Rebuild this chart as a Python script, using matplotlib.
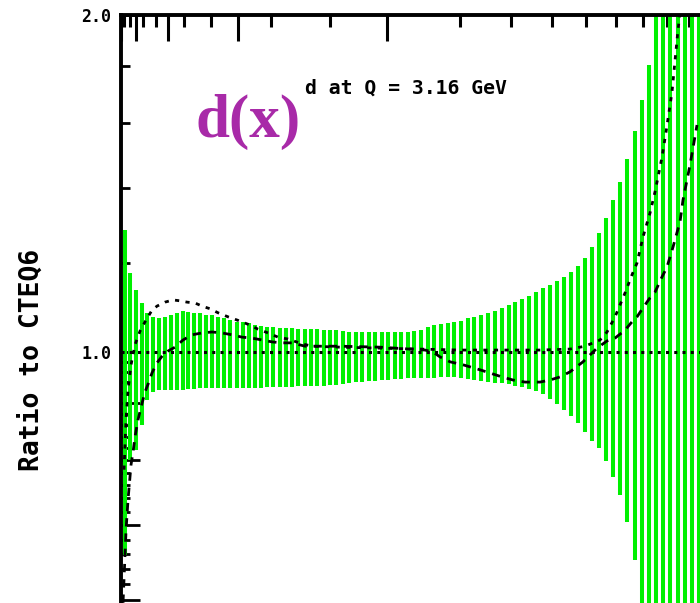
import numpy as np
import matplotlib
matplotlib.use("Agg")
import matplotlib.pyplot as plt
from matplotlib.ticker import FixedLocator, FixedFormatter, NullFormatter

# ---------------- data ----------------
# x positions of the green uncertainty bars
bar_x = [
    2.06e-5, 5.02e-5, 9.96e-5, 1.74e-4, 2.80e-4, 4.23e-4, 6.08e-4, 8.40e-4, 1.130e-3, 1.480e-3,
    1.895e-3, 2.382e-3, 2.946e-3, 3.604e-3, 4.354e-3, 5.201e-3, 6.151e-3, 7.210e-3, 8.405e-3, 9.726e-3,
    0.01118, 0.01277, 0.01450, 0.01642, 0.01849, 0.02074, 0.02316, 0.02576, 0.02855, 0.03159,
    0.03483, 0.03829, 0.04197, 0.04587, 0.05008, 0.05454, 0.05926, 0.06424, 0.06949, 0.07511,
    0.08103, 0.08725, 0.09377, 0.1006, 0.1078, 0.1154, 0.1234, 0.1317, 0.1404, 0.1495,
    0.1591, 0.1691, 0.1795, 0.1904, 0.2016, 0.2133, 0.2256, 0.2384, 0.2517, 0.2655,
    0.2797, 0.2945, 0.3099, 0.3260, 0.3425, 0.3596, 0.3773, 0.3955, 0.4146, 0.4343,
    0.4547, 0.4756, 0.4972, 0.5194, 0.5426, 0.5664, 0.5910, 0.6163, 0.6423, 0.6690,
    0.6964, 0.7250, 0.7543, 0.7844, 0.8154, 0.8471, 0.8796, 0.9130, 0.9472,
]
band_upper = [
    1.285, 1.176, 1.136, 1.106, 1.084, 1.075, 1.072, 1.075, 1.079, 1.084,
    1.088, 1.086, 1.084, 1.084, 1.079, 1.079, 1.075, 1.072, 1.068, 1.064,
    1.064, 1.062, 1.057, 1.055, 1.053, 1.053, 1.051, 1.051, 1.051, 1.048,
    1.048, 1.048, 1.048, 1.046, 1.046, 1.046, 1.044, 1.042, 1.042, 1.042,
    1.042, 1.042, 1.042, 1.042, 1.042, 1.042, 1.042, 1.044, 1.046, 1.053,
    1.057, 1.059, 1.062, 1.064, 1.066, 1.072, 1.075, 1.079, 1.084, 1.088,
    1.095, 1.102, 1.108, 1.115, 1.122, 1.131, 1.141, 1.148, 1.157, 1.167,
    1.179, 1.193, 1.213, 1.241, 1.277, 1.317, 1.367, 1.419, 1.487, 1.575,
    1.679, 1.805, 2.2, 2.2, 2.2, 2.2, 2.2, 2.2, 2.2,
]
band_lower = [
    0.659, 0.801, 0.818, 0.861, 0.906, 0.921, 0.925, 0.925, 0.925, 0.925,
    0.925, 0.927, 0.927, 0.929, 0.929, 0.929, 0.929, 0.929, 0.929, 0.929,
    0.929, 0.929, 0.929, 0.929, 0.931, 0.931, 0.931, 0.931, 0.931, 0.933,
    0.933, 0.933, 0.933, 0.933, 0.934, 0.934, 0.936, 0.938, 0.940, 0.940,
    0.942, 0.942, 0.944, 0.944, 0.946, 0.946, 0.948, 0.948, 0.948, 0.948,
    0.948, 0.950, 0.950, 0.950, 0.948, 0.946, 0.944, 0.942, 0.940, 0.938,
    0.938, 0.936, 0.933, 0.931, 0.927, 0.923, 0.917, 0.908, 0.899, 0.888,
    0.877, 0.864, 0.848, 0.833, 0.821, 0.799, 0.773, 0.745, 0.705, 0.652,
    0.45, 0.45, 0.45, 0.45, 0.45, 0.45, 0.45, 0.45, 0.45,
]

# short-dashed curve
curve_a_x = [
    1.877e-5, 2.673e-5, 3.667e-5, 5.578e-5, 9.022e-5, 1.502e-4, 2.322e-4, 3.905e-4, 5.393e-4, 8.488e-4,
    1.259e-3, 1.711e-3, 2.260e-3, 3.018e-3, 3.807e-3, 4.864e-3, 6.101e-3, 7.921e-3, 9.840e-3, 0.01312,
    0.01547, 0.01878, 0.02252, 0.02673, 0.03347, 0.03891, 0.05724, 0.09224, 0.1392, 0.1999,
    0.2761, 0.3696, 0.4520, 0.4975, 0.5459, 0.5695, 0.5974, 0.6334, 0.6595, 0.6786,
    0.7019, 0.7298, 0.7502, 0.7794, 0.7964, 0.8223, 0.8488, 0.8623,
]
curve_a_ratio = [
    0.785, 0.870, 0.925, 0.974, 1.015, 1.044, 1.064, 1.090, 1.099, 1.108,
    1.113, 1.111, 1.108, 1.106, 1.099, 1.093, 1.084, 1.075, 1.068, 1.057,
    1.048, 1.040, 1.031, 1.027, 1.017, 1.012, 1.010, 1.008, 1.006, 1.004,
    1.004, 1.004, 1.006, 1.012, 1.025, 1.042, 1.075, 1.129, 1.172, 1.201,
    1.267, 1.331, 1.390, 1.493, 1.572, 1.707, 1.939, 2.042,
]

# long-dashed curve
curve_b_x = [
    1.547e-5, 2.673e-5, 3.667e-5, 5.578e-5, 7.163e-5, 9.022e-5, 1.237e-4, 1.802e-4, 2.322e-4, 2.934e-4,
    3.905e-4, 5.393e-4, 7.626e-4, 9.901e-4, 1.379e-3, 1.934e-3, 2.717e-3, 3.807e-3, 5.156e-3, 6.791e-3,
    8.739e-3, 0.01103, 0.01369, 0.01674, 0.02022, 0.02415, 0.02855, 0.03504, 0.05724, 0.09224,
    0.1263, 0.1460, 0.1574, 0.1677, 0.1834, 0.2051, 0.2360, 0.2804, 0.3045, 0.3324,
    0.3696, 0.3958, 0.4233, 0.4520, 0.4912, 0.5360, 0.5695, 0.5974, 0.6334, 0.6595,
    0.6786, 0.7019, 0.7298, 0.7502, 0.7794, 0.8007, 0.8267, 0.8578, 0.8714, 0.9036,
    0.9366,
]
curve_b_ratio = [
    0.597, 0.693, 0.738, 0.793, 0.814, 0.840, 0.870, 0.900, 0.921, 0.936,
    0.958, 0.978, 0.994, 1.002, 1.010, 1.025, 1.036, 1.040, 1.042, 1.040,
    1.036, 1.031, 1.029, 1.025, 1.021, 1.019, 1.019, 1.012, 1.012, 1.010,
    1.006, 1.004, 1.000, 0.990, 0.980, 0.974, 0.964, 0.950, 0.944, 0.940,
    0.940, 0.944, 0.950, 0.960, 0.980, 1.008, 1.023, 1.029, 1.046, 1.064,
    1.075, 1.095, 1.118, 1.131, 1.167, 1.191, 1.241, 1.307, 1.367, 1.469,
    1.595,
]

reference_ratio = 1.0

y_major_ticks = [0.6, 0.7, 0.8, 0.9, 1.0, 2.0]
y_major_labels = ["", "", "", "", "1.0", "2.0"]
y_minor_ticks = [0.62, 0.64, 0.66, 0.68, 0.72, 0.74, 0.76, 0.78,
                 0.82, 0.84, 0.86, 0.88, 0.92, 0.94, 0.96, 0.98,
                 1.2, 1.4, 1.6, 1.8]
x_major_ticks = [1e-5, 1e-4, 1e-3, 1e-2, 1e-1, 1.0]
x_minor_ticks = [2e-5, 5e-5, 2e-4, 5e-4, 2e-3, 5e-3, 2e-2, 5e-2,
                 0.2, 0.3, 0.4, 0.5, 0.6, 0.7, 0.8, 0.9]

title_text = "d at Q = 3.16 GeV"
big_label = "d(x)"
y_label = "Ratio to CTEQ6"

# ---------------- figure ----------------
fig = plt.figure(figsize=(7.0, 6.03), dpi=100)
W, H = 700.0, 603.0
# axes spans px x 121..710 and y 15..689 (lower part cropped by the figure)
ax = fig.add_axes([121 / W, 1 - 689 / H, 589 / W, 674 / H])
ax.set_xscale("function", functions=(np.cbrt, lambda v: np.power(v, 3)))
ax.set_yscale("log")
ax.set_xlim(1e-5, 1.0)
ax.set_ylim(0.5, 2.0)

green = "#00f000"
bars = ax.vlines(bar_x, band_lower, band_upper, colors=green, linewidth=2.9, zorder=2)
bars.set_capstyle("butt")

ax.axhline(reference_ratio, color="black", linewidth=2.2, linestyle=(0, (1.0, 1.7)), zorder=3)
ax.plot(curve_a_x, curve_a_ratio, color="black", linewidth=2.0,
        linestyle=(0, (1.5, 2.3)), zorder=3)
ax.plot(curve_b_x, curve_b_ratio, color="black", linewidth=2.0,
        linestyle=(0, (3.0, 2.5)), zorder=3)

for s in ax.spines.values():
    s.set_linewidth(2.8)
ax.set_axisbelow(True)

ax.xaxis.set_major_locator(FixedLocator(x_major_ticks))
ax.xaxis.set_minor_locator(FixedLocator(x_minor_ticks))
ax.xaxis.set_major_formatter(NullFormatter())
ax.xaxis.set_minor_formatter(NullFormatter())
ax.tick_params(axis="x", which="both", direction="in", top=True, bottom=True,
               labeltop=False, labelbottom=False)
ax.tick_params(axis="x", which="major", length=19, width=2.2)
ax.tick_params(axis="x", which="minor", length=8.5, width=2.2)

ax.yaxis.set_major_locator(FixedLocator(y_major_ticks))
ax.yaxis.set_major_formatter(FixedFormatter(y_major_labels))
ax.yaxis.set_minor_locator(FixedLocator(y_minor_ticks))
ax.yaxis.set_minor_formatter(NullFormatter())
ax.tick_params(axis="y", which="both", direction="in", left=True, right=False, pad=7)
ax.tick_params(axis="y", which="major", length=14, width=2.0)
ax.tick_params(axis="y", which="minor", length=6.5, width=2.0)
for lab in ax.get_yticklabels():
    lab.set_fontfamily("DejaVu Sans Mono")
    lab.set_fontweight("bold")
    lab.set_fontsize(12)

# texts
fig.text(305 / W, 1 - 94 / H, title_text, family="DejaVu Sans Mono", fontweight="bold",
         fontsize=14.2, ha="left", va="baseline")
fig.text(195 / W, 1 - 137 / H, big_label, family="Liberation Serif", fontweight="bold",
         fontsize=44, color="#a82aa8", ha="left", va="baseline")
fig.text(32 / W, 1 - 360 / H, y_label, family="DejaVu Sans Mono", fontweight="bold",
         fontsize=19, rotation=90, ha="center", va="center")

fig.savefig("out.png", dpi=100)
